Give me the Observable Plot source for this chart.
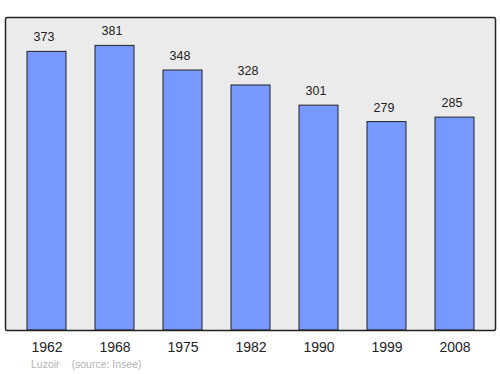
<!DOCTYPE html>
<html>
<head>
<meta charset="utf-8">
<script src="https://cdn.jsdelivr.net/npm/d3@7"></script>
<script src="https://cdn.jsdelivr.net/npm/@observablehq/plot@0.6"></script>
<style>
  html, body { margin: 0; padding: 0; background: #fff; }
  svg { display: block; }
</style>
</head>
<body>
<div id="chart"></div>
<script>
const years = ["1962", "1968", "1975", "1982", "1990", "1999", "2008"];
const population = [373, 381, 348, 328, 301, 279, 285];
const commune = "Luzoir";
const source = "(source: Insee)";

const data = years.map((y, i) => ({year: y, pop: population[i]}));

const chart = Plot.plot({
  width: 500,
  height: 374,
  marginTop: 17,
  marginBottom: 44,
  marginLeft: 5,
  marginRight: 5,
  style: {fontFamily: "'Liberation Sans', Arial, sans-serif", background: "#fff"},
  x: {domain: years, paddingInner: 0.43, paddingOuter: 0.3, label: null},
  y: {domain: [0, 419], axis: null},
  marks: [
    Plot.frame({fill: "#ebebeb", stroke: "none"}),
    Plot.barY(data, {x: "year", y: "pop", fill: "#7799ff", stroke: "#222", strokeWidth: 1}),
    Plot.text(data, {x: "year", y: "pop", text: d => String(d.pop), dx: -3, dy: -14.5, fontSize: 12.5, fill: "#222"}),
    Plot.axisX({tickSize: 0, tickPadding: 12, fontSize: 14, color: "#222"}),
    Plot.frame({stroke: "#222", strokeWidth: 1.5, rx: 2}),
    Plot.text([commune], {frameAnchor: "bottom-left", lineAnchor: "middle", dx: 25.5, dy: 34, text: d => d, fontSize: 10.5, fill: "#b4b4b4", textAnchor: "start"}),
    Plot.text([source], {frameAnchor: "bottom-left", lineAnchor: "middle", dx: 66, dy: 34, text: d => d, fontSize: 10.5, fill: "#b4b4b4", textAnchor: "start"})
  ]
});
document.getElementById("chart").append(chart);
</script>
</body>
</html>
